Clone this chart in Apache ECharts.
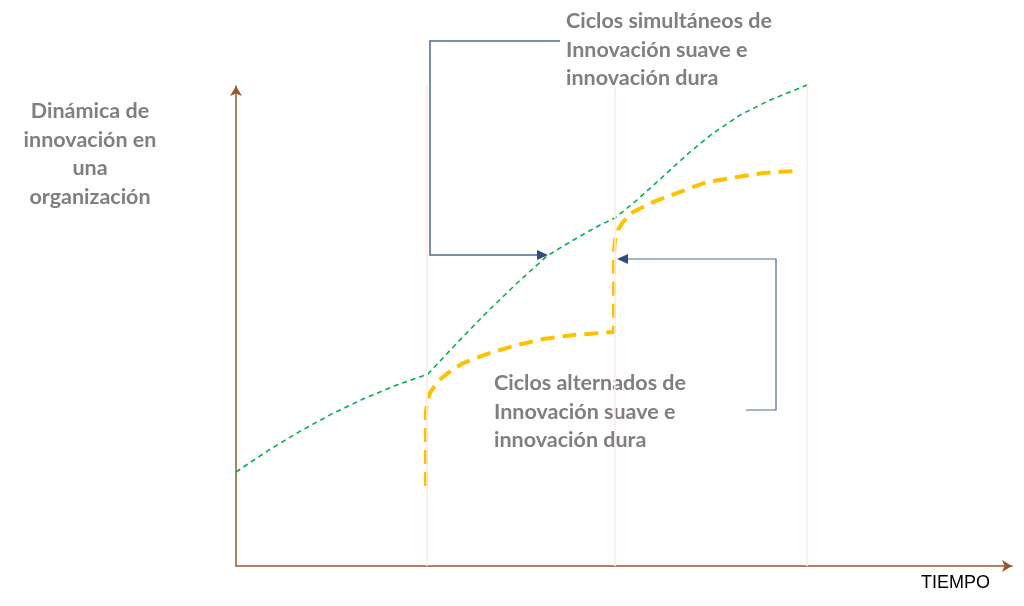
<!DOCTYPE html>
<html><head><meta charset="utf-8">
<script src="https://cdn.jsdelivr.net/npm/echarts@6/dist/echarts.min.js"></script>
<style>html,body{margin:0;padding:0;background:#fff}#c{width:1024px;height:606px}</style>
</head><body><div id="c"></div>
<script>
// Green: simultaneous cycles [time, dynamics]
const greenX = [0.000, 0.168, 0.336, 0.504, 0.673, 0.841, 1.009, 1.161, 1.319, 1.477, 1.634, 1.729, 1.818, 1.913, 1.991, 2.107, 2.264, 2.385, 2.501, 2.648, 2.806, 3.000];
const greenY = [19.58, 24.04, 28.06, 31.69, 34.88, 37.65, 40.00, 46.46, 52.92, 58.96, 64.58, 66.88, 68.96, 71.04, 72.50, 76.25, 81.88, 86.25, 90.00, 93.96, 97.08, 100.21];
// Orange: alternating cycles
const orangeX = [0.998, 0.998, 1.004, 1.019, 1.056, 1.114, 1.193, 1.335, 1.476, 1.613, 1.771, 1.912, 1.986, 1.986, 1.991, 2.007, 2.033, 2.086, 2.191, 2.333, 2.475, 2.632, 2.769, 2.948];
const orangeY = [16.67, 32.08, 33.96, 36.04, 38.33, 40.21, 42.29, 44.38, 46.04, 47.29, 48.13, 48.54, 48.75, 65.42, 67.92, 70.00, 71.67, 73.75, 75.83, 77.92, 80.00, 81.04, 81.88, 82.29];
const phaseMarks = [1, 1.99, 3];
const yTitle = ['Dinámica de', 'innovación en', 'una', 'organización'];
const xTitle = 'TIEMPO';
const noteTop = ['Ciclos simultáneos de', 'Innovación suave e', 'innovación dura'];
const noteBottom = ['Ciclos alternados de', 'Innovación suave e', 'innovación dura'];

const zip = (a, b) => a.map((v, i) => [v, b[i]]);
const chart = echarts.init(document.getElementById('c'), null, {renderer: 'canvas'});
const axisCol = '#9a5630';
const noteCol = '#4e6b8c';
const txtStyle = {fontFamily: 'Lato', fontWeight: 'bold', fontSize: 21.5, fill: '#7f7f7f', lineHeight: 28.5};
chart.setOption({
  animation: false,
  grid: {left: 236, right: 12, top: 86, bottom: 40},
  xAxis: {type: 'value', min: 0, max: 4.077, splitLine: {show: false}, axisTick: {show: false}, axisLabel: {show: false},
    axisLine: {lineStyle: {color: axisCol, width: 1.5}, symbol: ['none', 'arrow'], symbolSize: [9, 10]}},
  yAxis: {type: 'value', min: 0, max: 100, splitLine: {show: false}, axisTick: {show: false}, axisLabel: {show: false},
    axisLine: {lineStyle: {color: axisCol, width: 1.5}, symbol: ['none', 'arrow'], symbolSize: [9, 10]}},
  series: [
    {type: 'line', data: [], markLine: {silent: true, symbol: 'none', label: {show: false},
      lineStyle: {color: '#fbebe0', width: 1.5, type: 'solid'},
      data: phaseMarks.map(v => [{coord: [v, 0]}, {coord: [v, 100]}])}},
    {type: 'line', data: zip(greenX, greenY), smooth: false, symbol: 'none', clip: false,
      lineStyle: {color: '#00b050', width: 1.6, type: [5, 4]}},
    {type: 'line', data: zip(orangeX, orangeY), smooth: false, symbol: 'none', clip: false,
      lineStyle: {color: '#ffc000', width: 4, type: [14, 8], join: 'round'}}
  ],
  graphic: [
    {type: 'text', x: 90, y: 97, style: Object.assign({}, txtStyle, {text: yTitle.join('\n'), align: 'center'})},
    {type: 'text', x: 566, y: 7, style: Object.assign({}, txtStyle, {text: noteTop.join('\n')})},
    {type: 'text', x: 494, y: 369, style: Object.assign({}, txtStyle, {text: noteBottom.join('\n')})},
    {type: 'text', x: 921, y: 574, style: {text: xTitle, fontFamily: 'Liberation Sans', fontSize: 18, fill: '#000'}},
    {type: 'polyline', shape: {points: [[560, 41], [430, 41], [430, 255], [540, 255]]}, style: {stroke: noteCol, lineWidth: 1.5, fill: null}},
    {type: 'polygon', shape: {points: [[548, 255], [537, 250], [537, 260]]}, style: {fill: '#2f4f7a'}},
    {type: 'polyline', shape: {points: [[746, 410], [776, 410], [776, 259], [624, 259]]}, style: {stroke: noteCol, lineWidth: 1.2, fill: null}},
    {type: 'polygon', shape: {points: [[617, 259], [628, 254], [628, 264]]}, style: {fill: '#2f4f7a'}}
  ]
});
</script></body></html>
